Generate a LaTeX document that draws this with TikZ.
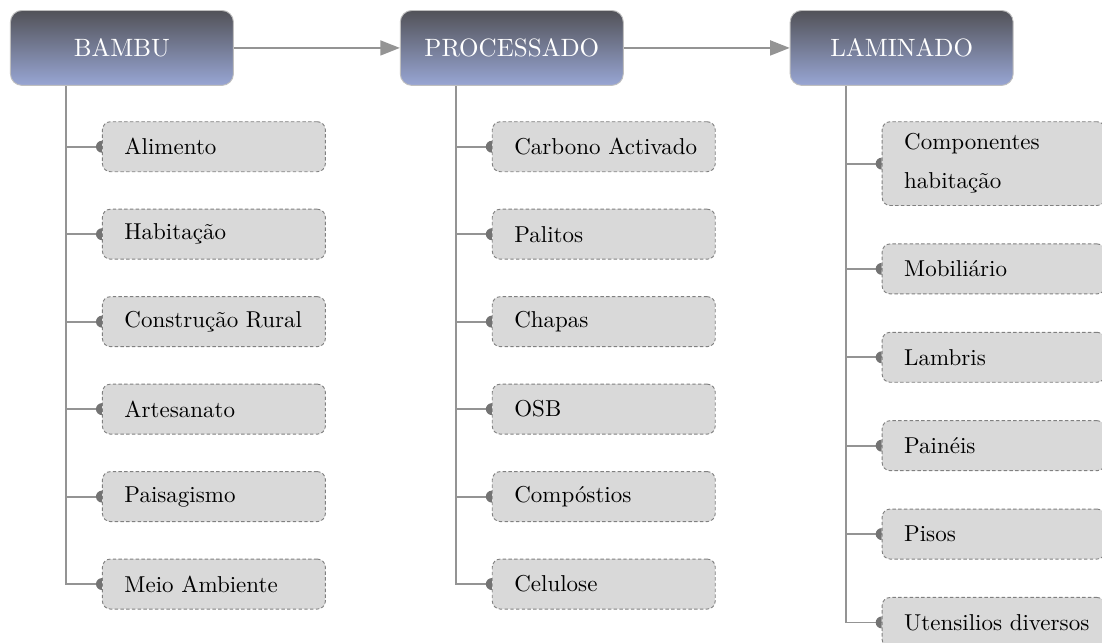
\documentclass[tikz,border=0pt]{standalone}
\usetikzlibrary{positioning, arrows.meta}

\definecolor{hdtop}{RGB}{82,82,88}
\definecolor{hdbot}{RGB}{152,166,212}

\begin{document}
\begin{tikzpicture}
\tikzset{head/.style={rounded corners=5pt, draw=black!25, top color=hdtop, bottom color=hdbot,
                      text=white, minimum width=97pt, minimum height=32.6pt, inner sep=0pt,
                      font=\fontsize{10.9}{13}\selectfont},
         item/.style={rounded corners=3.5pt, draw=black!50, dash pattern=on 1.5pt off 1pt, line width=0.4pt,
                      fill=gray!30, text width=91pt, inner xsep=3pt, inner ysep=5.2pt,
                      minimum height=21.75pt, align=left, execute at begin node={\leftskip=6.6pt},
                      font=\fontsize{10}{17}\selectfont},
         conn/.style={draw=black!42, line width=0.8pt},
         flow/.style={conn, -{Triangle[length=8.5pt, width=6.5pt]}},
         knob/.style={fill=black!55}}

  % top row
  \node[head] (bambu) {BAMBU};
  \node[head, right=72.2pt of bambu] (proc) {PROCESSADO};
  \node[head, right=72.2pt of proc] (lam) {LAMINADO};

  \useasboundingbox ([shift={(-4.35pt,4.35pt)}]bambu.north west) rectangle ++(479.4pt,-279.7pt);

  \draw[flow] (bambu) -- (proc);
  \draw[flow] (proc) -- (lam);

  % BAMBU
  \node[item, anchor=north west] (b1) at ([xshift=40pt, yshift=-15.4pt]bambu.south west) {Alimento};
  \node[item, below=15.9pt of b1] (b2) {Habitação};
  \node[item, below=15.9pt of b2] (b3) {Construção Rural};
  \node[item, below=15.9pt of b3] (b4) {Artesanato};
  \node[item, below=15.9pt of b4] (b5) {Paisagismo};
  \node[item, below=15.9pt of b5] (b6) {Meio Ambiente};

  % PROCESSADO
  \node[item, anchor=north west] (p1) at ([xshift=40pt, yshift=-15.4pt]proc.south west) {Carbono Activado};
  \node[item, below=15.9pt of p1] (p2) {Palitos};
  \node[item, below=15.9pt of p2] (p3) {Chapas};
  \node[item, below=15.9pt of p3] (p4) {OSB};
  \node[item, below=15.9pt of p4] (p5) {Compóstios};
  \node[item, below=15.9pt of p5] (p6) {Celulose};

  % LAMINADO
  \node[item, anchor=north west] (l1) at ([xshift=40pt, yshift=-15.4pt]lam.south west) {Componentes habitação};
  \node[item, below=16.3pt of l1] (l2) {Mobiliário};
  \node[item, below=16.3pt of l2] (l3) {Lambris};
  \node[item, below=16.3pt of l3] (l4) {Painéis};
  \node[item, below=16.3pt of l4] (l5) {Pisos};
  \node[item, below=16.3pt of l5] (l6) {Utensilios diversos};

  % trunks and branches
  \foreach \hd/\ch in {bambu/b, proc/p, lam/l} {
    \coordinate (\hd-t) at ([xshift=24.4pt]\hd.south west);
    \draw[conn] (\hd-t) |- (\ch6.west);
    \foreach \i in {1,...,5}
      \draw[conn] (\ch\i.west) -- (\ch\i.west -| \hd-t);
    \foreach \i in {1,...,6}
      \fill[knob] ([yshift=2.6pt]\ch\i.west) arc (90:270:2.6pt) -- cycle;
  }
\end{tikzpicture}
\end{document}
